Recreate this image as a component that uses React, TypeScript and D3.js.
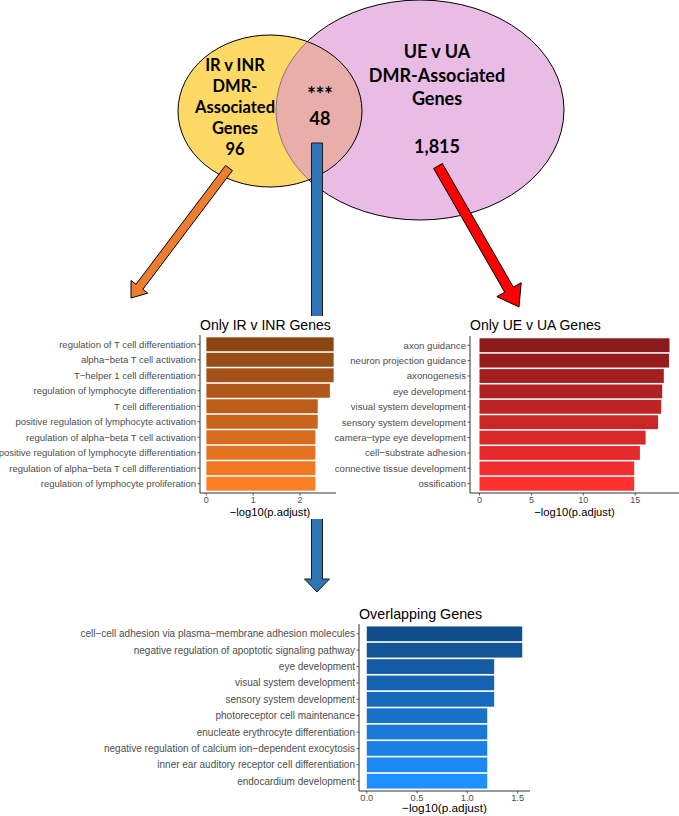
import React from "react";
import * as d3 from "d3";

const irCategories = [
  "regulation of T cell differentiation",
  "alpha−beta T cell activation",
  "T−helper 1 cell differentiation",
  "regulation of lymphocyte differentiation",
  "T cell differentiation",
  "positive regulation of lymphocyte activation",
  "regulation of alpha−beta T cell activation",
  "positive regulation of lymphocyte differentiation",
  "regulation of alpha−beta T cell differentiation",
  "regulation of lymphocyte proliferation",
];
const irValues = [2.72, 2.72, 2.72, 2.64, 2.38, 2.38, 2.33, 2.33, 2.33, 2.33];

const ueCategories = [
  "axon guidance",
  "neuron projection guidance",
  "axonogenesis",
  "eye development",
  "visual system development",
  "sensory system development",
  "camera−type eye development",
  "cell−substrate adhesion",
  "connective tissue development",
  "ossification",
];
const ueValues = [18.3, 18.25, 17.75, 17.6, 17.5, 17.2, 16.0, 15.45, 14.9, 14.9];

const ovCategories = [
  "cell−cell adhesion via plasma−membrane adhesion molecules",
  "negative regulation of apoptotic signaling pathway",
  "eye development",
  "visual system development",
  "sensory system development",
  "photoreceptor cell maintenance",
  "enucleate erythrocyte differentiation",
  "negative regulation of calcium ion−dependent exocytosis",
  "inner ear auditory receptor cell differentiation",
  "endocardium development",
];
const ovValues = [1.546, 1.546, 1.267, 1.267, 1.267, 1.198, 1.198, 1.198, 1.198, 1.198];

const irTicks = [0, 1, 2];
const ueTicks = [0, 5, 10, 15];
const ovTicks = [0, 0.5, 1.0, 1.5];

const vennLeftLabel = ["IR v INR", "DMR-", "Associated", "Genes", "96"];
const vennRightLabel = ["UE v UA", "DMR-Associated", "Genes"];
const vennRightCount = "1,815";
const vennOverlap = ["***", "48"];

const AXIS_TITLE = "−log10(p.adjust)";
const SANS = "'Liberation Sans', Arial, Helvetica, sans-serif";
const VENN_FONT = "Lato, 'Open Sans', sans-serif";

function arrowPoints(sx: number, sy: number, tx: number, ty: number, w: number, hw: number, hl: number) {
  const dx = tx - sx, dy = ty - sy;
  const len = Math.hypot(dx, dy);
  const ux = dx / len, uy = dy / len;
  const nx = -uy, ny = ux;
  const neckX = tx - ux * hl, neckY = ty - uy * hl;
  const pts: [number, number][] = [
    [sx + nx * w / 2, sy + ny * w / 2],
    [neckX + nx * w / 2, neckY + ny * w / 2],
    [neckX + nx * hw / 2, neckY + ny * hw / 2],
    [tx, ty],
    [neckX - nx * hw / 2, neckY - ny * hw / 2],
    [neckX - nx * w / 2, neckY - ny * w / 2],
    [sx - nx * w / 2, sy - ny * w / 2],
  ];
  return pts.map((p) => p.join(",")).join(" ");
}

type ChartProps = {
  cats: string[];
  vals: number[];
  lo: string;
  hi: string;
  x0: number;
  x1: number;
  axisEnd: number;
  top: number;
  bottom: number;
  title: string;
  titleY: number;
  ticks: number[];
  fmt: (v: number) => string;
  labelSize: number;
  tickSize: number;
  titleSize: number;
  axisTitleSize: number;
  tickLabelY: number;
  axisTitleY: number;
};

function BarChart(p: ChartProps) {
  const max = d3.max(p.vals) as number;
  const x = d3.scaleLinear().domain([-0.05 * max, 1.05 * max]).range([p.x0, p.x1]);
  const y = d3.scaleBand<string>().domain(p.cats).range([p.top, p.bottom]).paddingInner(0.1).paddingOuter(0.15);
  const col = d3.interpolateLab(p.lo, p.hi);
  const n = p.cats.length;
  const axisCol = "#333333";
  const textCol = "#4d4d4d";
  return (
    <g>
      <text x={p.x0} y={p.titleY} fontSize={p.titleSize} fontFamily={SANS} fill="#000">
        {p.title}
      </text>
      {p.cats.map((c, i) => (
        <rect
          key={c}
          x={x(0)}
          y={y(c)}
          width={x(p.vals[i]) - x(0)}
          height={y.bandwidth()}
          fill={col(i / (n - 1))}
        />
      ))}
      <line x1={p.x0} x2={p.x0} y1={p.top} y2={p.bottom} stroke={axisCol} strokeWidth={1} />
      <line x1={p.x0} x2={p.axisEnd} y1={p.bottom} y2={p.bottom} stroke={axisCol} strokeWidth={1} />
      {p.cats.map((c) => {
        const cy = (y(c) as number) + y.bandwidth() / 2;
        return (
          <g key={"l" + c}>
            <line x1={p.x0 - 2.5} x2={p.x0} y1={cy} y2={cy} stroke={axisCol} strokeWidth={0.8} />
            <text
              x={p.x0 - 4}
              y={cy}
              dy="0.35em"
              textAnchor="end"
              fontSize={p.labelSize}
              fontFamily={SANS}
              fill={textCol}
            >
              {c}
            </text>
          </g>
        );
      })}
      {p.ticks.map((t) => (
        <g key={"t" + t}>
          <line x1={x(t)} x2={x(t)} y1={p.bottom} y2={p.bottom + 2.5} stroke={axisCol} strokeWidth={0.8} />
          <text x={x(t)} y={p.tickLabelY} textAnchor="middle" fontSize={p.tickSize} fontFamily={SANS} fill={textCol}>
            {p.fmt(t)}
          </text>
        </g>
      ))}
      <text
        x={(p.x0 + p.x1) / 2}
        y={p.axisTitleY}
        textAnchor="middle"
        fontSize={p.axisTitleSize}
        fontFamily={SANS}
        fill="#000"
      >
        {AXIS_TITLE}
      </text>
    </g>
  );
}

export default function App() {
  const W = 679, H = 816;
  const yel = { cx: 270, cy: 111, rx: 92, ry: 76 };
  const pink = { cx: 420, cy: 110, rx: 144, ry: 110 };
  return (
    <div style={{ position: "absolute", left: 0, top: 0 }}>
      <svg width={W} height={H} viewBox={`0 0 ${W} ${H}`} style={{ display: "block", background: "#fff" }}>
        <defs>
          <mask id="outsideYellow">
            <rect x={0} y={0} width={W} height={H} fill="#fff" />
            <ellipse cx={yel.cx} cy={yel.cy} rx={yel.rx} ry={yel.ry} fill="#000" />
          </mask>
          <clipPath id="insideYellow">
            <ellipse cx={yel.cx} cy={yel.cy} rx={yel.rx} ry={yel.ry} />
          </clipPath>
        </defs>
        <rect x={0} y={0} width={W} height={H} fill="#fff" />

        <ellipse cx={yel.cx} cy={yel.cy} rx={yel.rx} ry={yel.ry} fill="#FFD966" />
        <ellipse cx={pink.cx} cy={pink.cy} rx={pink.rx} ry={pink.ry} fill="#DB91D6" fillOpacity={0.61} />
        <ellipse
          cx={pink.cx}
          cy={pink.cy}
          rx={pink.rx}
          ry={pink.ry}
          fill="none"
          stroke="#000"
          strokeWidth={1}
          mask="url(#outsideYellow)"
        />
        <ellipse
          cx={pink.cx}
          cy={pink.cy}
          rx={pink.rx}
          ry={pink.ry}
          fill="none"
          stroke="#8f6f8c"
          strokeWidth={1}
          clipPath="url(#insideYellow)"
        />
        <ellipse cx={yel.cx} cy={yel.cy} rx={yel.rx} ry={yel.ry} fill="none" stroke="#000" strokeWidth={1} />

        {vennLeftLabel.map((t, i) => (
          <text
            key={"vl" + i}
            x={235}
            y={70.5 + i * 21.2}
            textAnchor="middle"
            fontFamily={VENN_FONT}
            fontWeight={700}
            fontSize={16.5}
            fill="#000"
          >
            {t}
          </text>
        ))}
        <text x={320} y={102} textAnchor="middle" fontFamily={VENN_FONT} fontWeight={700} fontSize={20} fill="#000">
          {vennOverlap[0]}
        </text>
        <text x={320} y={125} textAnchor="middle" fontFamily={VENN_FONT} fontWeight={700} fontSize={18} fill="#000">
          {vennOverlap[1]}
        </text>
        {vennRightLabel.map((t, i) => (
          <text
            key={"vr" + i}
            x={437}
            y={58 + i * 23.5}
            textAnchor="middle"
            fontFamily={VENN_FONT}
            fontWeight={700}
            fontSize={18}
            fill="#000"
          >
            {t}
          </text>
        ))}
        <text x={437} y={153} textAnchor="middle" fontFamily={VENN_FONT} fontWeight={700} fontSize={18} fill="#000">
          {vennRightCount}
        </text>

        <polygon points={arrowPoints(317, 143, 317, 592, 11, 25, 13)} fill="#2E75B6" stroke="#1a1a1a" strokeWidth={1} />
        <polygon points={arrowPoints(229, 168, 131, 298, 8.5, 21, 14)} fill="#ED7D31" stroke="#000" strokeWidth={1} />
        <polygon points={arrowPoints(438, 166, 519, 307, 10, 28, 20)} fill="#FF0000" stroke="#000" strokeWidth={1} />

        <rect x={150} y={316} width={188} height={203} fill="#fff" />

        <BarChart
          cats={irCategories}
          vals={irValues}
          lo="#8B4513"
          hi="#FF7F24"
          x0={200}
          x1={340}
          axisEnd={336}
          top={335}
          bottom={493}
          title="Only IR v INR Genes"
          titleY={330}
          ticks={irTicks}
          fmt={(v) => d3.format("d")(v)}
          labelSize={9.5}
          tickSize={9}
          titleSize={14}
          axisTitleSize={11.2}
          tickLabelY={503}
          axisTitleY={516}
        />
        <BarChart
          cats={ueCategories}
          vals={ueValues}
          lo="#8B1A1A"
          hi="#FF3030"
          x0={470}
          x1={679}
          axisEnd={679}
          top={336}
          bottom={493}
          title="Only UE v UA Genes"
          titleY={330}
          ticks={ueTicks}
          fmt={(v) => d3.format("d")(v)}
          labelSize={9.6}
          tickSize={9}
          titleSize={14}
          axisTitleSize={11.2}
          tickLabelY={503}
          axisTitleY={516}
        />
        <BarChart
          cats={ovCategories}
          vals={ovValues}
          lo="#104E8B"
          hi="#1E90FF"
          x0={359}
          x1={530}
          axisEnd={530}
          top={624}
          bottom={791}
          title="Overlapping Genes"
          titleY={619}
          ticks={ovTicks}
          fmt={(v) => d3.format(".1f")(v)}
          labelSize={10}
          tickSize={9.3}
          titleSize={14.3}
          axisTitleSize={11.8}
          tickLabelY={800.5}
          axisTitleY={812}
        />
      </svg>
    </div>
  );
}
